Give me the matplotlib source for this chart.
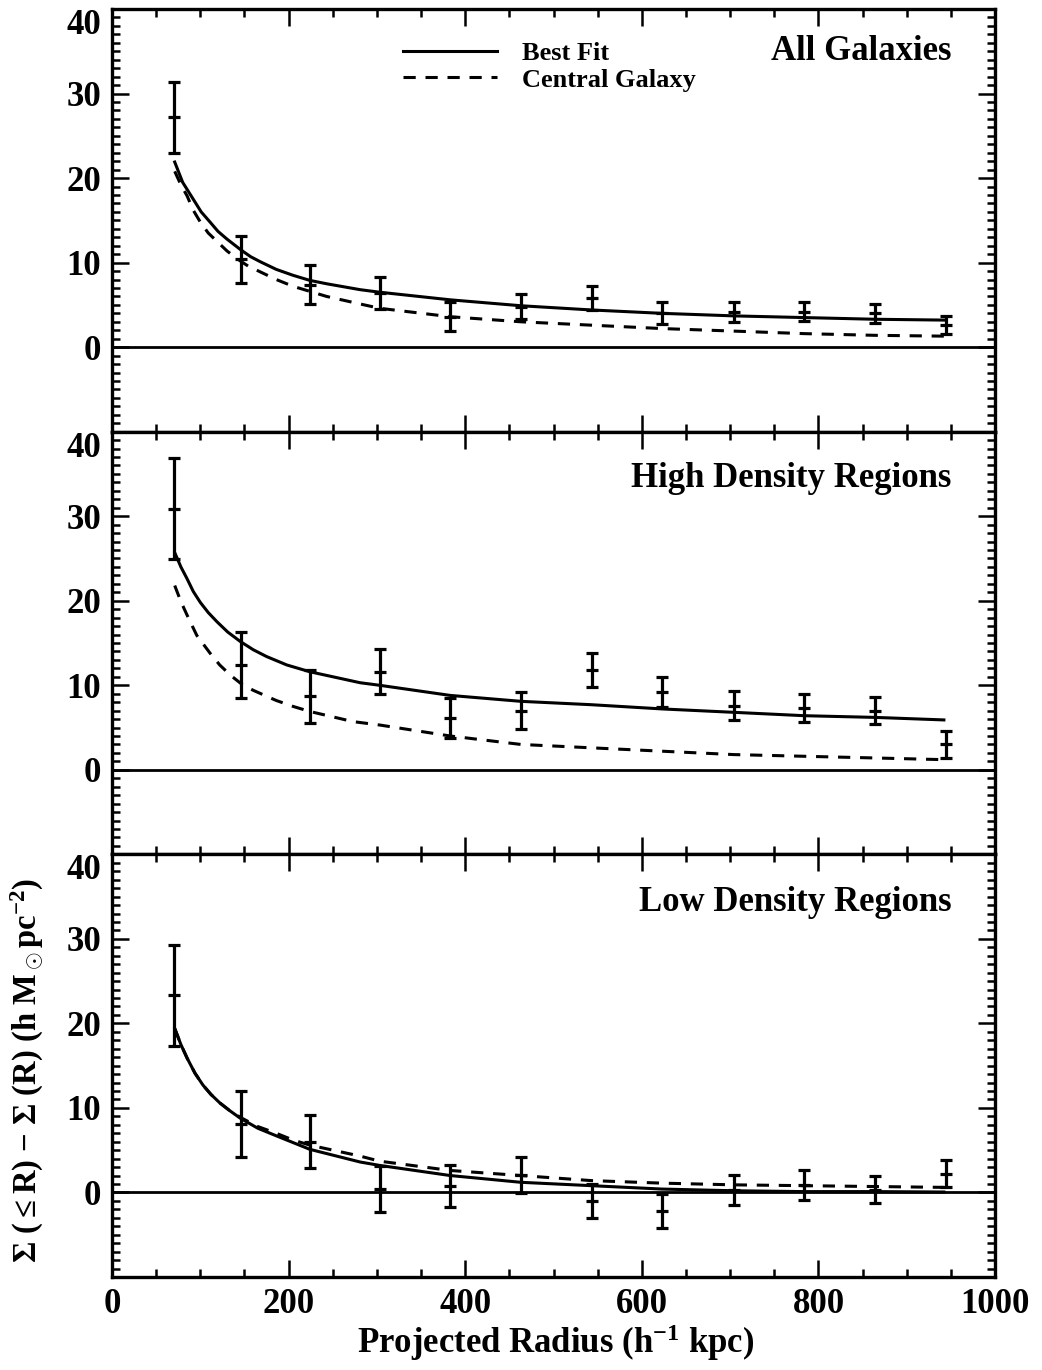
import matplotlib
matplotlib.use('Agg')
import matplotlib.pyplot as plt
from matplotlib.ticker import FixedLocator, MultipleLocator

plt.rcParams['font.family'] = ['Liberation Serif', 'DejaVu Serif']
plt.rcParams['font.weight'] = 'bold'
plt.rcParams['mathtext.fontset'] = 'custom'
plt.rcParams['mathtext.rm'] = 'Liberation Serif:bold'
plt.rcParams['mathtext.it'] = 'Liberation Serif:bold'
plt.rcParams['mathtext.bf'] = 'Liberation Serif:bold'

# measured shear profile, projected radius in h^-1 kpc
radius = [70, 146, 224, 303, 383, 463, 543, 623, 704, 784, 864, 944]

all_sig = [27.2, 10.4, 7.4, 6.4, 3.6, 4.8, 5.8, 4.0, 4.2, 4.2, 4.0, 2.6]
all_err = [4.2, 2.8, 2.3, 1.9, 1.7, 1.5, 1.45, 1.3, 1.2, 1.15, 1.15, 1.1]

high_sig = [30.9, 12.4, 8.7, 11.6, 6.1, 7.0, 11.8, 9.2, 7.6, 7.3, 7.0, 3.0]
high_err = [5.95, 3.85, 3.15, 2.65, 2.35, 2.2, 2.0, 1.8, 1.75, 1.65, 1.6, 1.55]

low_sig = [23.3, 8.1, 6.0, 0.4, 0.8, 2.1, -1.0, -2.2, 0.3, 0.9, 0.3, 2.2]
low_err = [6.0, 3.95, 3.15, 2.7, 2.5, 2.15, 2.0, 2.05, 1.8, 1.75, 1.6, 1.6]

# model curves
all_fit_r = [71, 80, 92, 101, 111, 120, 130, 146, 157, 168, 186, 205, 224, 243, 281, 303,
             383, 463, 543, 623, 704, 784, 864, 944]
all_fit = [21.9, 19.5, 17.5, 16.0, 14.8, 13.7, 12.8, 11.5, 10.7, 10.1, 9.2, 8.5, 7.9, 7.5,
           6.8, 6.5, 5.6, 4.9, 4.4, 4.0, 3.7, 3.5, 3.3, 3.2]
all_cen_r = [71, 78, 85, 92, 100, 109, 119, 130, 141, 154, 168, 186, 205, 243, 277, 303,
             383, 463, 543, 623, 704, 784, 864, 944]
all_cen = [20.8, 19.2, 17.9, 16.2, 14.8, 13.5, 12.5, 11.4, 10.5, 9.6, 8.9, 8.0, 7.2, 6.0,
           5.2, 4.6, 3.6, 3.0, 2.6, 2.2, 1.9, 1.6, 1.4, 1.3]

high_fit_r = [71, 78, 85, 92, 100, 109, 119, 131, 145, 160, 175, 198, 224, 281, 303, 383,
              463, 543, 623, 704, 784, 864, 942]
high_fit = [25.7, 24.0, 22.6, 21.1, 19.8, 18.6, 17.5, 16.3, 15.2, 14.2, 13.4, 12.4, 11.6,
            10.3, 10.0, 8.8, 8.1, 7.7, 7.2, 6.8, 6.4, 6.2, 5.9]
high_cen_r = [71, 78, 85, 96, 111, 122, 134, 146, 160, 186, 205, 224, 273, 303, 383, 463,
              543, 623, 704, 784, 864, 942]
high_cen = [21.8, 19.9, 18.3, 15.9, 13.8, 12.4, 11.2, 10.2, 9.4, 8.2, 7.5, 6.9, 5.7, 5.3,
            4.0, 3.0, 2.6, 2.2, 1.8, 1.6, 1.4, 1.2]

low_fit_r = [71, 78, 85, 94, 103, 112, 122, 133, 145, 165, 186, 205, 224, 281, 303, 383,
             463, 543, 623, 704, 784, 864, 942]
low_fit = [19.4, 17.5, 15.9, 14.1, 12.7, 11.6, 10.6, 9.7, 8.8, 7.6, 6.7, 5.9, 5.1, 3.6,
           3.2, 2.0, 1.2, 0.8, 0.4, 0.2, 0.1, 0.1, 0.05]
low_cen = [19.4, 17.5, 15.9, 14.1, 12.7, 11.6, 10.6, 9.7, 8.9, 7.8, 7.0, 6.2, 5.6, 4.3,
           3.7, 2.6, 2.0, 1.4, 1.1, 0.9, 0.8, 0.7, 0.6]

panels = [
    ('All Galaxies', all_sig, all_err, all_fit_r, all_fit, all_cen_r, all_cen, 0.90),
    ('High Density Regions', high_sig, high_err, high_fit_r, high_fit, high_cen_r, high_cen, 0.89),
    ('Low Density Regions', low_sig, low_err, low_fit_r, low_fit, low_fit_r, low_cen, 0.885),
]

fig, axes = plt.subplots(3, 1, sharex=True, figsize=(10.42, 13.70), dpi=100)
fig.subplots_adjust(left=0.1075, right=0.955, top=0.9934, bottom=0.0679, hspace=0)

for i, (ax, (name, sig, err, fr, fit, cr, cen, ty)) in enumerate(zip(axes, panels)):
    ax.axhline(0, color='black', lw=2)
    ax.errorbar(radius, sig, yerr=err, fmt='_', color='black', ms=9, mew=2.3,
                elinewidth=2.3, capsize=4, capthick=2.3)
    l1, = ax.plot(fr, fit, color='black', lw=2.2, label='Best Fit')
    l2, = ax.plot(cr, cen, color='black', lw=2.2, label='Central Galaxy')
    l2.set_dashes((4.0, 3.2))
    ax.text(0.951, ty, name, transform=ax.transAxes, ha='right', va='center',
            fontsize=25, fontweight='bold')

    ax.set_xlim(0, 1000)
    ax.set_ylim(-10, 40)
    ax.yaxis.set_major_locator(FixedLocator([0, 10, 20, 30, 40]))
    ax.yaxis.set_minor_locator(MultipleLocator(1))
    ax.xaxis.set_major_locator(MultipleLocator(200))
    ax.xaxis.set_minor_locator(MultipleLocator(50))
    ax.tick_params(which='both', direction='in', top=True, right=True, width=1.8,
                   labelsize=25, pad=8)
    ax.tick_params(which='major', length=12)
    ax.tick_params(which='minor', length=6)
    for s in ax.spines.values():
        s.set_linewidth(2.4)
    for lab in ax.get_xticklabels() + ax.get_yticklabels():
        lab.set_fontweight('bold')
    # keep the top label inside its own panel
    ax.yaxis.get_major_ticks()[-1].label1.set_verticalalignment('top')

    if i == 0:
        ax.legend(handles=[l1, l2], loc='upper left', bbox_to_anchor=(0.3296, 0.922),
                  frameon=False, fontsize=19, handlelength=3.56, handletextpad=0.95,
                  labelspacing=0.1, borderpad=0, borderaxespad=0)

fig.text(0.533, 0.0197, r'Projected Radius (h$^{-1}$ kpc)', ha='center', va='center',
         fontsize=25, fontweight='bold')
fig.text(0.026, 0.219, r'$\Sigma$ ($\leq$R) $-$ $\Sigma$ (R) (h M$_\odot$pc$^{-2}$)',
         rotation=90, ha='center', va='center', fontsize=23.5, fontweight='bold')

fig.savefig('out.png', dpi=100)
